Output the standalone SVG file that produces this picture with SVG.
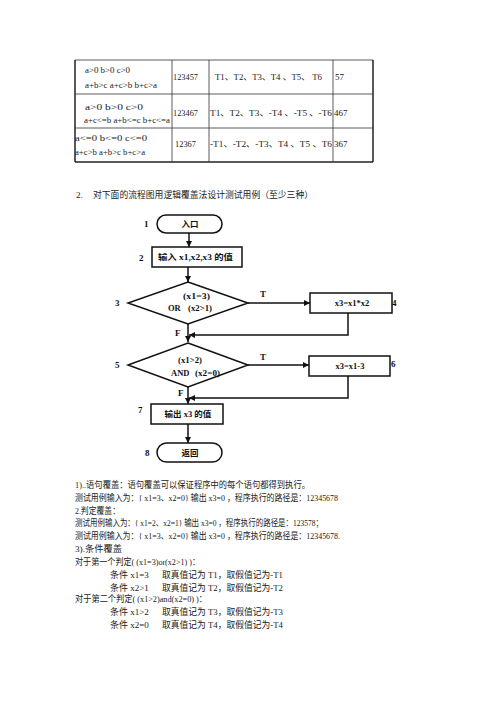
<svg xmlns="http://www.w3.org/2000/svg" width="500" height="707" viewBox="0 0 500 707">
<defs>
<marker id="ah" viewBox="0 0 10 10" refX="10" refY="5" markerWidth="6" markerHeight="6" orient="auto" markerUnits="userSpaceOnUse">
<path d="M0,0 L10,5 L0,10 Z" fill="#111"/>
</marker>
<style>
.t{font-family:"Liberation Serif","Noto Sans CJK SC",serif;font-size:9px;fill:#1a1a1a}
.f{font-family:"Liberation Serif","Noto Sans CJK SC",serif;font-size:8.5px;fill:#111;font-weight:bold}
.n{font-family:"Liberation Serif","Noto Sans CJK SC",serif;font-size:9px;fill:#111;font-weight:bold}
.shape{fill:#fff;stroke:#111;stroke-width:1.5}
.conn{fill:none;stroke:#111;stroke-width:1.5}
.grid{stroke:#333;stroke-width:0.8;fill:none}
.outer{stroke:#222;stroke-width:1.5;fill:none}
</style>
</defs>
<rect width="500" height="707" fill="#fff"/>

<g id="table">
<line class="grid" x1="75" y1="60" x2="373" y2="60" stroke="#999"/>
<line class="outer" x1="75" y1="60" x2="75" y2="162"/>
<line class="outer" x1="373" y1="60" x2="373" y2="162"/>
<line class="outer" x1="75" y1="162" x2="373" y2="162"/>
<line class="grid" x1="75" y1="94" x2="373" y2="94"/>
<line class="grid" x1="75" y1="128" x2="373" y2="128"/>
<line class="grid" x1="172" y1="60" x2="172" y2="162"/>
<line class="grid" x1="209" y1="60" x2="209" y2="162"/>
<line class="grid" x1="333" y1="60" x2="333" y2="162"/>
<text class="t" x="85" y="73" textLength="45" lengthAdjust="spacingAndGlyphs">a&gt;0 b&gt;0 c&gt;0</text>
<text class="t" x="85" y="88" textLength="72" lengthAdjust="spacingAndGlyphs">a+b&gt;c a+c&gt;b b+c&gt;a</text>
<text class="t" x="173" y="80" textLength="25" lengthAdjust="spacingAndGlyphs">123457</text>
<text class="t" x="215" y="80" textLength="107" lengthAdjust="spacingAndGlyphs">T1、T2、T3、T4 、T5、  T6</text>
<text class="t" x="335" y="80">57</text>
<text class="t" x="85" y="110" textLength="58" lengthAdjust="spacingAndGlyphs">a&gt;0   b&gt;0   c&gt;0</text>
<text class="t" x="84" y="123" textLength="86" lengthAdjust="spacingAndGlyphs">a+c&lt;=b a+b&lt;=c b+c&lt;=a</text>
<text class="t" x="173" y="116" textLength="25" lengthAdjust="spacingAndGlyphs">123467</text>
<text class="t" x="210" y="116" textLength="122" lengthAdjust="spacingAndGlyphs">T1、T2、T3、-T4 、-T5 、-T6</text>
<text class="t" x="334" y="116">467</text>
<text class="t" x="75" y="141" textLength="72" lengthAdjust="spacingAndGlyphs">a&lt;=0   b&lt;=0   c&lt;=0</text>
<text class="t" x="75" y="155" textLength="70" lengthAdjust="spacingAndGlyphs">a+c&gt;b a+b&gt;c b+c&gt;a</text>
<text class="t" x="175" y="147" textLength="21" lengthAdjust="spacingAndGlyphs">12367</text>
<text class="t" x="210" y="147" textLength="122" lengthAdjust="spacingAndGlyphs">-T1、-T2、-T3、T4 、T5 、T6</text>
<text class="t" x="334" y="147">367</text>
</g>

<g id="title">
<text class="t" x="76" y="198">2.</text>
<text class="t" x="93" y="198" textLength="220" lengthAdjust="spacingAndGlyphs">对下面的流程图用逻辑覆盖法设计测试用例（至少三种）</text>
</g>

<g id="connectors">
<line class="conn" x1="189" y1="233" x2="189" y2="247" marker-end="url(#ah)"/>
<line class="conn" x1="188" y1="267" x2="188" y2="282" marker-end="url(#ah)"/>
<line class="conn" x1="248" y1="303" x2="310" y2="303" marker-end="url(#ah)"/>
<polyline class="conn" points="348,313 348,335 189,335" marker-end="url(#ah)"/>
<line class="conn" x1="188" y1="324" x2="188" y2="342" marker-end="url(#ah)"/>
<line class="conn" x1="248" y1="365" x2="309" y2="365" marker-end="url(#ah)"/>
<polyline class="conn" points="348,376 348,398 189,398" marker-end="url(#ah)"/>
<line class="conn" x1="188" y1="387" x2="188" y2="404" marker-end="url(#ah)"/>
<line class="conn" x1="188" y1="424" x2="188" y2="443" marker-end="url(#ah)"/>
<text class="n" x="260" y="297">T</text>
<text class="n" x="175" y="336">F</text>
<text class="n" x="260" y="360">T</text>
<text class="n" x="178" y="396">F</text>
</g>

<g id="node1">
<rect class="shape" x="157" y="215" width="65" height="18" rx="9"/>
<text class="f" x="190" y="227" text-anchor="middle">入口</text>
<text class="n" x="144" y="227">1</text>
</g>
<g id="node2">
<rect class="shape" x="152" y="247" width="90" height="20"/>
<text class="f" x="158" y="260" textLength="75" lengthAdjust="spacingAndGlyphs">输入 x1,x2,x3 的值</text>
<text class="n" x="139" y="261">2</text>
</g>
<g id="node3">
<polygon class="shape" points="188,282 248,303 188,324 128,303"/>
<text class="f" x="183" y="299" textLength="27" lengthAdjust="spacingAndGlyphs">(x1=3)</text>
<text class="f" x="168" y="311">OR</text>
<text class="f" x="188" y="311" textLength="24" lengthAdjust="spacingAndGlyphs">(x2&gt;1)</text>
<text class="n" x="115" y="306">3</text>
</g>
<g id="node4">
<rect class="shape" x="310" y="293" width="82" height="20"/>
<text class="f" x="352" y="306" text-anchor="middle">x3=x1*x2</text>
<text class="n" x="392" y="306">4</text>
</g>
<g id="node5">
<polygon class="shape" points="188,343 248,365 188,387 128,365"/>
<text class="f" x="178" y="363" textLength="24" lengthAdjust="spacingAndGlyphs">(x1&gt;2)</text>
<text class="f" x="171" y="376">AND</text>
<text class="f" x="195" y="376" textLength="25" lengthAdjust="spacingAndGlyphs">(x2=0)</text>
<text class="n" x="115" y="368">5</text>
</g>
<g id="node6">
<rect class="shape" x="309" y="356" width="81" height="20"/>
<text class="f" x="350" y="369" text-anchor="middle">x3=x1-3</text>
<text class="n" x="391" y="367">6</text>
</g>
<g id="node7">
<rect class="shape" x="151" y="404" width="72" height="20"/>
<text class="f" x="188" y="417" text-anchor="middle">输出 x3 的值</text>
<text class="n" x="138" y="413">7</text>
</g>
<g id="node8">
<rect class="shape" x="157" y="443" width="65" height="19" rx="9.5"/>
<text class="f" x="190" y="456" text-anchor="middle">返回</text>
<text class="n" x="145" y="456">8</text>
</g>

<g id="notes">
<text class="t" x="75" y="488" textLength="235" lengthAdjust="spacingAndGlyphs">1)..语句覆盖：语句覆盖可以保证程序中的每个语句都得到执行。</text>
<text class="t" x="75" y="501" textLength="263" lengthAdjust="spacingAndGlyphs">测试用例输入为：{ x1=3、x2=0}   输出 x3=0 ，程序执行的路径是：12345678</text>
<text class="t" x="75" y="514" textLength="45" lengthAdjust="spacingAndGlyphs">2.判定覆盖：</text>
<text class="t" x="75" y="526" textLength="248" lengthAdjust="spacingAndGlyphs">测试用例输入为：{ x1=2、x2=1}   输出 x3=0 ，程序执行的路径是：123578；</text>
<text class="t" x="75" y="539" textLength="265" lengthAdjust="spacingAndGlyphs">测试用例输入为：{ x1=3、x2=0}   输出 x3=0 ，程序执行的路径是：12345678.</text>
<text class="t" x="75" y="552" textLength="47" lengthAdjust="spacingAndGlyphs">3).条件覆盖</text>
<text class="t" x="75" y="565" textLength="125" lengthAdjust="spacingAndGlyphs">对于第一个判定( (x1=3)or(x2&gt;1) )：</text>
<text class="t" x="110" y="578">条件 x1=3</text>
<text class="t" x="162" y="578" textLength="121" lengthAdjust="spacingAndGlyphs">取真值记为 T1，取假值记为-T1</text>
<text class="t" x="110" y="591">条件 x2&gt;1</text>
<text class="t" x="162" y="591" textLength="121" lengthAdjust="spacingAndGlyphs">取真值记为 T2，取假值记为-T2</text>
<text class="t" x="75" y="602" textLength="132" lengthAdjust="spacingAndGlyphs">对于第二个判定( (x1&gt;2)and(x2=0) )：</text>
<text class="t" x="110" y="615">条件 x1&gt;2</text>
<text class="t" x="162" y="615" textLength="121" lengthAdjust="spacingAndGlyphs">取真值记为 T3，取假值记为-T3</text>
<text class="t" x="110" y="628">条件 x2=0</text>
<text class="t" x="162" y="628" textLength="121" lengthAdjust="spacingAndGlyphs">取真值记为 T4，取假值记为-T4</text>
</g>
</svg>
